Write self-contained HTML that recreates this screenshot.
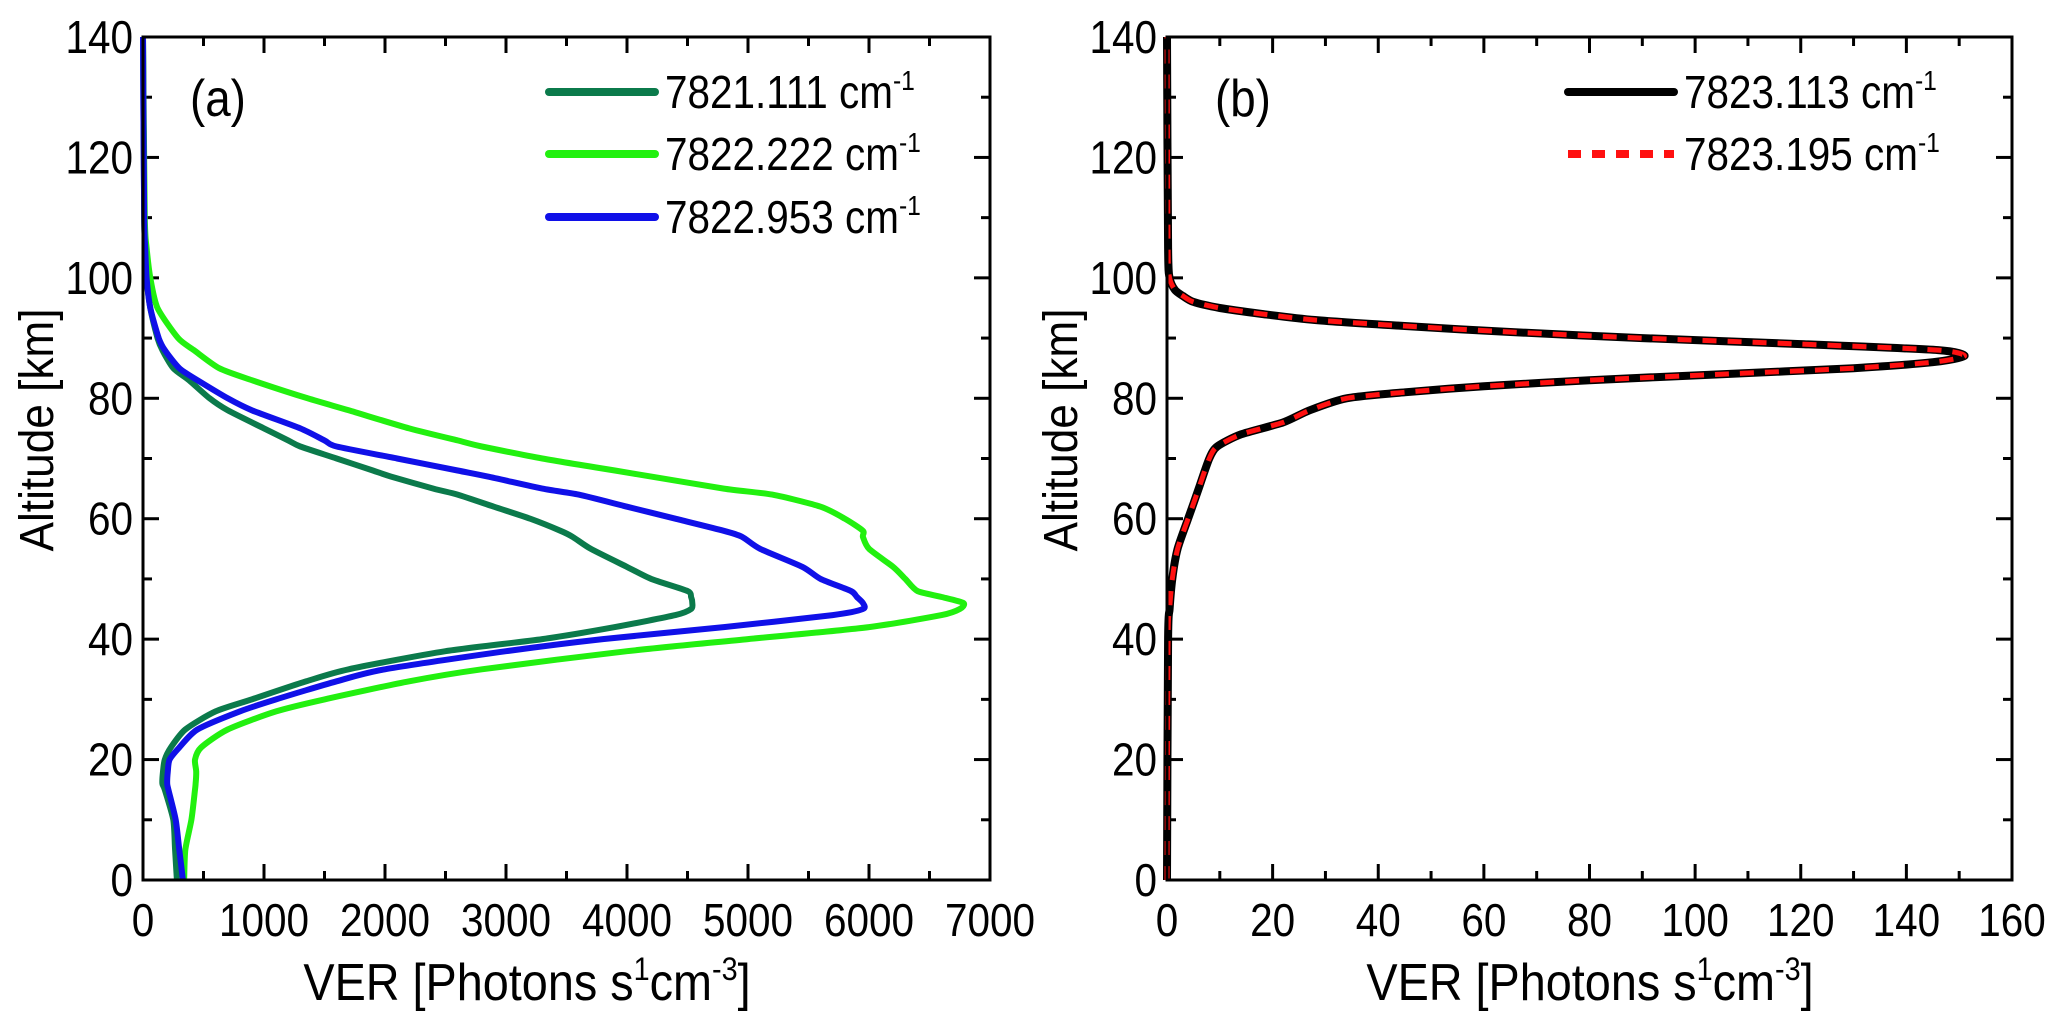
<!DOCTYPE html>
<html><head><meta charset="utf-8"><style>
html,body{margin:0;padding:0;background:#fff}
svg{display:block}
text{font-family:"Liberation Sans",Arial,sans-serif;fill:#000}
</style></head><body>
<svg id="chart" width="2067" height="1029" viewBox="0 0 2067 1029" xmlns="http://www.w3.org/2000/svg"></svg>
<script>
const altA=[0,5,10,15,16,18,20,22,25,28,30,33,35,38,40,42,44,45,46,47,48,50,52,55,57,58,60,62,64,65,67,68,70,72,73,75,78,80,83,85,88,90,95,100,105,110,140];
const darkGreen=[280,265,250,180,160,165,180,230,350,600,900,1350,1700,2500,3300,3900,4400,4530,4540,4530,4500,4200,4000,3700,3550,3450,3200,2900,2600,2400,2050,1900,1600,1300,1200,1000,700,550,380,250,160,120,60,30,18,10,0];
const blue=[330,300,270,210,200,205,220,300,450,800,1100,1600,2000,3000,3800,4800,5700,5950,5950,5900,5850,5600,5450,5100,4950,4800,4400,4000,3600,3300,2850,2600,2100,1600,1500,1300,900,700,450,300,180,130,60,30,18,10,0];
const green=[340,350,400,430,435,440,430,480,700,1100,1500,2200,2800,4000,5000,6000,6600,6750,6780,6600,6400,6300,6200,6000,5950,5950,5800,5600,5200,4800,4200,3900,3300,2800,2600,2200,1700,1360,900,630,420,290,120,60,30,15,0];
const altB=[0,40,45,50,55,60,65,70,72,74,76,78,80,81,82,83,84,85,86,87,88,89,90,91,92,93,94,95,96,97,98,100,105,140];
const verB=[0,0.2,0.5,1,2,4,6,8,9.5,14,22,27,34,45,60,80,105,130,145,151,146,120,90,65,45,28,18,10,5,3,1.5,0.5,0.2,0];
const yTicks=[0,20,40,60,80,100,120,140];
const xTicksA=[0,1000,2000,3000,4000,5000,6000,7000];
const xTicksB=[0,20,40,60,80,100,120,140,160];

const NS="http://www.w3.org/2000/svg";
const svg=document.getElementById('chart');
function mk(tag,attrs,parent){const e=document.createElementNS(NS,tag);for(const k in attrs)e.setAttribute(k,attrs[k]);(parent||svg).appendChild(e);return e;}
const T=37,B=880;
function yS(a){return B-(a/140)*(B-T);}
function ctext(parent,x,y,anchor,size,sx,str){
  return mk('text',{x:0,y:0,'text-anchor':anchor,'font-size':size,transform:'translate('+x+','+y+') scale('+sx+',1)'},parent);
}

function panel(L,R,xmax,xTicks,xMinorStep,name){
  const g=mk('g',{});
  
  
  const xS=v=>L+(v/xmax)*(R-L);
  for(let a=0;a<=140;a+=10){const maj=a%20===0,len=maj?16:9;const y=yS(a);
    mk('line',{x1:L,x2:L+len,y1:y,y2:y,stroke:'#000','stroke-width':3},g);
    mk('line',{x1:R,x2:R-len,y1:y,y2:y,stroke:'#000','stroke-width':3},g);}
  for(let v=0;v<=xmax+1e-9;v+=xMinorStep){const maj=Math.round(v/xMinorStep)%2===0,len=maj?16:9;const x=xS(v);
    mk('line',{x1:x,x2:x,y1:B,y2:B-len,stroke:'#000','stroke-width':3},g);
    mk('line',{x1:x,x2:x,y1:T,y2:T+len,stroke:'#000','stroke-width':3},g);}
  yTicks.forEach(a=>{const t=ctext(g,L-10,yS(a)+16,'end',46,0.88);t.textContent=a;
    
    });
  xTicks.forEach(v=>{const t=ctext(g,xS(v),B+56,'middle',46,0.88);t.textContent=v;
    
    });
  return {g,xS};
}
function line(pan,xs,alts,color,dash,w,name){
  const P=xs.map((v,i)=>[pan.xS(v),yS(alts[i])]);
  let d='M'+P[0][0].toFixed(1)+','+P[0][1].toFixed(1);
  for(let i=0;i<P.length-1;i++){
    const p0=P[Math.max(i-1,0)],p1=P[i],p2=P[i+1],p3=P[Math.min(i+2,P.length-1)];
    const k=0.12;
    const c1=[p1[0]+(p2[0]-p0[0])*k,p1[1]+(p2[1]-p0[1])*k];
    const c2=[p2[0]-(p3[0]-p1[0])*k,p2[1]-(p3[1]-p1[1])*k];
    d+='C'+c1[0].toFixed(1)+','+c1[1].toFixed(1)+' '+c2[0].toFixed(1)+','+c2[1].toFixed(1)+' '+p2[0].toFixed(1)+','+p2[1].toFixed(1);
  }
  const p=mk('path',{d:d,fill:'none',stroke:color,'stroke-width':w,'stroke-linejoin':'round'},pan.g);
  if(dash)p.setAttribute('stroke-dasharray',dash);
  
  
}
function frame(pan,L,R){const r=mk('rect',{x:L,y:T,width:R-L,height:B-T,fill:'none',stroke:'#000','stroke-width':3},pan.g);
  
  }
function legend(g,x1,x2,y,color,dash,label,name){
  const l=mk('line',{x1:x1,x2:x2,y1:y,y2:y,stroke:color,'stroke-width':8,'stroke-linecap':dash?'butt':'round'},g);
  if(dash)l.setAttribute('stroke-dasharray',dash);
  const t=ctext(g,x2+10,y+16,'start',46,0.88);
  t.innerHTML=label+' cm<tspan dy="-18" font-size="28">-1</tspan>';
  
  
  
  
}
function titles(cx,L){
  const t=ctext(svg,cx,1000,'middle',52,0.9);
  t.innerHTML='VER [Photons s<tspan dy="-20" font-size="32">1</tspan><tspan dy="20">cm</tspan><tspan dy="-20" font-size="32">-3</tspan><tspan dy="20">]</tspan>';
  
  
  const y=mk('text',{x:0,y:0,'text-anchor':'middle','font-size':48,transform:'translate('+(L-90)+',430) rotate(-90) scale(0.92,1)'});
  y.textContent='Altitude [km]';
  
  
}
// Panel a
const pa=panel(143,990,7000,xTicksA,500,'panel-a');
line(pa,darkGreen,altA,'#0b7a4b',null,6,'series-7821-111');
line(pa,green,altA,'#22f00f',null,6,'series-7822-222');
line(pa,blue,altA,'#1010e8',null,6,'series-7822-953');
frame(pa,143,990);
legend(pa.g,549,655,92,'#0b7a4b',null,'7821.111','legend-7821-111');
legend(pa.g,549,655,154,'#22f00f',null,'7822.222','legend-7822-222');
legend(pa.g,549,655,217,'#1010e8',null,'7822.953','legend-7822-953');
const la=ctext(pa.g,190,116,'start',52,0.88);la.textContent='(a)';


titles(527,143);
// Panel b
const pb=panel(1167,2012,160,xTicksB,10,'panel-b');
line(pb,verB,altB,'#000',null,8,'series-7823-113');
line(pb,verB,altB,'#ff1010','14 11',5,'series-7823-195');
frame(pb,1167,2012);
legend(pb.g,1568,1674,92,'#000',null,'7823.113','legend-7823-113');
legend(pb.g,1568,1674,154,'#ff1010','13 11','7823.195','legend-7823-195');
const lb=ctext(pb.g,1215,116,'start',52,0.88);lb.textContent='(b)';


titles(1590,1167);
</script>
</body></html>
